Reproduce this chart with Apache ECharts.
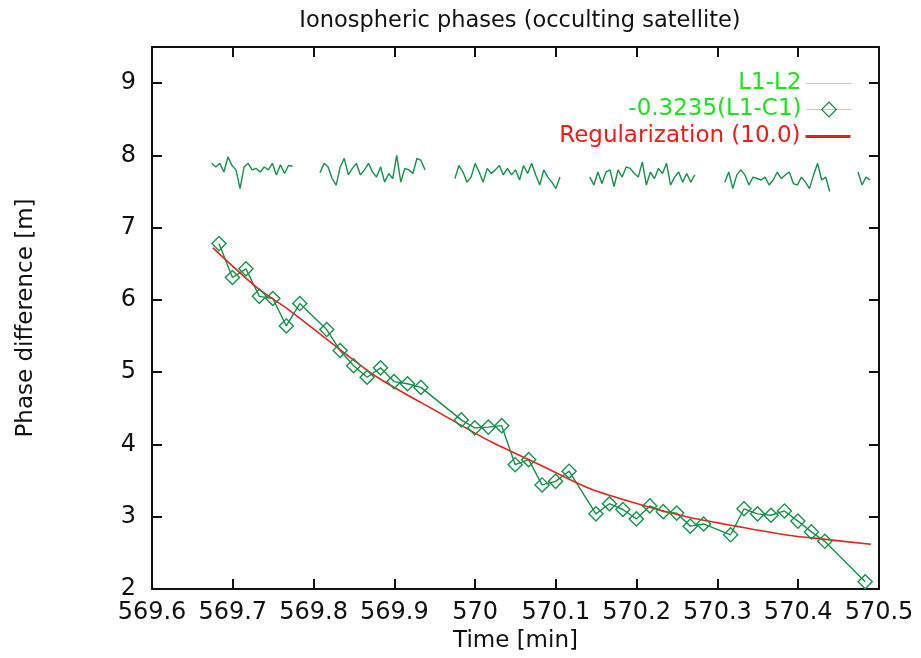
<!DOCTYPE html>
<html>
<head>
<meta charset="utf-8">
<script src="https://cdn.jsdelivr.net/npm/echarts@6/dist/echarts.min.js"></script>
<style>
html,body{margin:0;padding:0;background:#fff;}
#chart{width:921px;height:658px;}
</style>
</head>
<body>
<div id="chart"></div>
<script>
// ---- data ----
var xTicks = [569.6, 569.7, 569.8, 569.9, 570, 570.1, 570.2, 570.3, 570.4, 570.5];
var yTicks = [2, 3, 4, 5, 6, 7, 8, 9];

// L1-L2 (noisy, with gaps)
var l12Times = [
  569.674, 569.679, 569.684, 569.689, 569.694, 569.699, 569.704, 569.709, 569.714, 569.719, 569.724,
  569.729, 569.734, 569.739, 569.744, 569.749, 569.754, 569.759, 569.764, 569.769, 569.774,
  569.790,
  569.808, 569.813, 569.818, 569.823, 569.828, 569.833, 569.838, 569.843, 569.848, 569.853, 569.858,
  569.863, 569.868, 569.873, 569.878, 569.883, 569.888, 569.893, 569.898, 569.903, 569.908, 569.913,
  569.918, 569.923, 569.928, 569.933, 569.938,
  569.958,
  569.975, 569.980, 569.985, 569.990, 569.995, 570.000, 570.005, 570.010, 570.015, 570.020, 570.025,
  570.030, 570.035, 570.040, 570.045, 570.050, 570.055, 570.060, 570.065, 570.070, 570.075, 570.080,
  570.085, 570.090, 570.095, 570.100, 570.105,
  570.125,
  570.142, 570.147, 570.152, 570.157, 570.162, 570.167, 570.172, 570.177, 570.182, 570.187, 570.192,
  570.197, 570.202, 570.207, 570.212, 570.217, 570.222, 570.227, 570.232, 570.237, 570.242, 570.247,
  570.252, 570.257, 570.262, 570.267, 570.272,
  570.290,
  570.309, 570.314, 570.319, 570.324, 570.329, 570.334, 570.339, 570.344, 570.349, 570.354, 570.359,
  570.364, 570.369, 570.374, 570.379, 570.384, 570.389, 570.394, 570.399, 570.404, 570.409, 570.414,
  570.419, 570.424, 570.429, 570.434, 570.439,
  570.456,
  570.474, 570.479, 570.484, 570.489
];
var l12Values = [
  7.89, 7.84, 7.89, 7.77, 7.98, 7.86, 7.80, 7.54, 7.84, 7.89, 7.80,
  7.82, 7.77, 7.84, 7.80, 7.89, 7.73, 7.87, 7.75, 7.86, 7.85,
  null,
  7.76, 7.89, 7.84, 7.68, 7.59, 7.84, 7.96, 7.73, 7.82, 7.89, 7.73,
  7.80, 7.89, 7.77, 7.70, 7.84, 7.63, 7.75, 7.68, 8.00, 7.63, 7.82,
  7.80, 7.75, 7.96, 7.93, 7.80,
  null,
  7.68, 7.86, 7.77, 7.63, 7.70, 7.89, 7.77, 7.63, 7.82, 7.75, 7.80,
  7.86, 7.73, 7.82, 7.73, 7.80, 7.66, 7.86, 7.75, 7.89, 7.73, 7.59,
  7.80, 7.70, 7.63, 7.54, 7.70,
  null,
  7.70, 7.59, 7.77, 7.61, 7.77, 7.80, 7.57, 7.80, 7.70, 7.84, 7.82,
  7.75, 7.70, 7.91, 7.59, 7.77, 7.68, 7.82, 7.75, 7.89, 7.59, 7.70,
  7.77, 7.63, 7.75, 7.63, 7.73,
  null,
  7.63, 7.77, 7.54, 7.73, 7.80, 7.73, 7.59, 7.70, 7.68, 7.66, 7.70,
  7.59, 7.66, 7.77, 7.68, 7.73, 7.77, 7.61, 7.59, 7.70, 7.63, 7.54,
  7.73, 7.89, 7.66, 7.70, 7.50,
  null,
  7.77, 7.59, 7.70, 7.66
];

// -0.3235(L1-C1)
var c1Times = [
  569.6829, 569.6996, 569.7163, 569.7329, 569.7496, 569.7663, 569.7829,
  569.8163, 569.8329, 569.8496, 569.8663, 569.8829, 569.8996, 569.9163, 569.9329,
  569.9829, 569.9996, 570.0163, 570.0329, 570.0496, 570.0663, 570.0829, 570.0996, 570.1163,
  570.1496, 570.1663, 570.1829, 570.1996, 570.2163, 570.2329, 570.2496, 570.2663, 570.2829,
  570.3163, 570.3329, 570.3496, 570.3663, 570.3829, 570.3996, 570.4163, 570.4329,
  570.4829
];
var c1Values = [
  6.78, 6.31, 6.43, 6.05, 6.02, 5.64, 5.95,
  5.59, 5.30, 5.09, 4.93, 5.06, 4.87, 4.84, 4.79,
  4.34, 4.23, 4.24, 4.26, 3.72, 3.79, 3.44, 3.49, 3.63,
  3.04, 3.18, 3.10, 2.97, 3.15, 3.07, 3.05, 2.87, 2.90,
  2.75, 3.11, 3.04, 3.02, 3.08, 2.94, 2.79, 2.66,
  2.10
];

// Regularization (10.0)
var regTimes = [569.6755, 569.730, 569.771, 569.824, 569.879, 569.957, 570.021, 570.080,
                570.142, 570.204, 570.266, 570.323, 570.390, 570.431, 570.490];
var regValues = [6.72, 6.17, 5.85, 5.39, 4.93, 4.43, 4.03, 3.72,
                 3.39, 3.17, 2.99, 2.87, 2.74, 2.69, 2.62];

var seriesNames = ['L1-L2', '-0.3235(L1-C1)', 'Regularization (10.0)'];

function zip(a, b) { return a.map(function (t, i) { return [t, b[i]]; }); }

var FONT = 'DejaVu Sans';
var chart = echarts.init(document.getElementById('chart'), null, {renderer: 'canvas'});

var tickStyle = {show: true, inside: true, length: 10, lineStyle: {color: '#111', width: 2}};
var lineStyleAxis = {show: true, onZero: false, lineStyle: {color: '#111', width: 2}};
var noSymbol = {color: 'transparent', borderColor: 'transparent', borderWidth: 0, opacity: 0};

function legendFor(name, top, extra) {
  return {
    data: [Object.assign({name: name}, extra)],
    orient: 'vertical',
    align: 'right',
    right: 69,
    top: top,
    padding: 0,
    itemWidth: 45,
    itemHeight: 13,
    selectedMode: false,
    textStyle: {fontFamily: FONT, fontSize: 23}
  };
}

var option = {
  animation: false,
  backgroundColor: '#fff',
  title: {
    text: 'Ionospheric phases (occulting satellite)',
    left: 515,
    textAlign: 'center',
    top: 5,
    textStyle: {fontFamily: FONT, fontSize: 22.5, fontWeight: 'normal', color: '#111'}
  },
  legend: [
    legendFor(seriesNames[0], 72, {textStyle: {color: '#1ee21e'}, lineStyle: {color: '#a6dab6', width: 1}, itemStyle: noSymbol}),
    legendFor(seriesNames[1], 98, {textStyle: {color: '#1ee21e'}, lineStyle: {color: '#a6dab6', width: 1}, itemStyle: {color: 'transparent', borderColor: '#108a40', borderWidth: 1.2}}),
    legendFor(seriesNames[2], 125, {textStyle: {color: '#f41a1a'}, lineStyle: {color: '#d8261c', width: 3}, itemStyle: noSymbol})
  ],
  grid: {left: 152, right: 42, top: 47, bottom: 65, containLabel: false},
  xAxis: [{
    type: 'value',
    min: xTicks[0], max: xTicks[xTicks.length - 1], interval: 0.1,
    name: 'Time [min]', nameLocation: 'middle', nameGap: 41,
    nameTextStyle: {fontFamily: FONT, fontSize: 23, color: '#111'},
    axisLine: lineStyleAxis, axisTick: tickStyle,
    axisLabel: {fontFamily: FONT, fontSize: 24, color: '#111', margin: 12,
      formatter: function (v) { return String(+v.toFixed(1)); }},
    splitLine: {show: false}
  }, {
    type: 'value', position: 'top',
    min: xTicks[0], max: xTicks[xTicks.length - 1], interval: 0.1,
    axisLine: lineStyleAxis, axisTick: tickStyle, axisLabel: {show: false}, splitLine: {show: false}
  }],
  yAxis: [{
    type: 'value', min: yTicks[0], max: 9.5, interval: 1,
    name: 'Phase difference [m]', nameLocation: 'middle', nameGap: 114, nameRotate: 90,
    nameTextStyle: {fontFamily: FONT, fontSize: 23, color: '#111'},
    axisLine: lineStyleAxis, axisTick: tickStyle,
    axisLabel: {fontFamily: FONT, fontSize: 24, color: '#111', margin: 16,
      formatter: function (v) { return yTicks.indexOf(v) >= 0 ? String(v) : ''; }},
    splitLine: {show: false}
  }, {
    type: 'value', position: 'right', min: yTicks[0], max: 9.5, interval: 1,
    axisLine: lineStyleAxis, axisTick: tickStyle, axisLabel: {show: false}, splitLine: {show: false}
  }],
  series: [{
    name: seriesNames[0], type: 'line',
    data: zip(l12Times, l12Values),
    symbol: 'none', connectNulls: false,
    lineStyle: {color: '#13904a', width: 1.4},
    itemStyle: {color: '#13904a'}
  }, {
    name: seriesNames[1], type: 'line',
    data: zip(c1Times, c1Values),
    symbol: 'rect', symbolRotate: 45, symbolSize: 10, showSymbol: true,
    lineStyle: {color: '#15904a', width: 1.4},
    itemStyle: {color: 'transparent', borderColor: '#17934b', borderWidth: 1.4}
  }, {
    name: seriesNames[2], type: 'line',
    data: zip(regTimes, regValues),
    symbol: 'none', smooth: 0.3,
    lineStyle: {color: '#e4261c', width: 1.6},
    itemStyle: {color: '#e4261c'}
  }]
};
chart.setOption(option);
</script>
</body>
</html>
